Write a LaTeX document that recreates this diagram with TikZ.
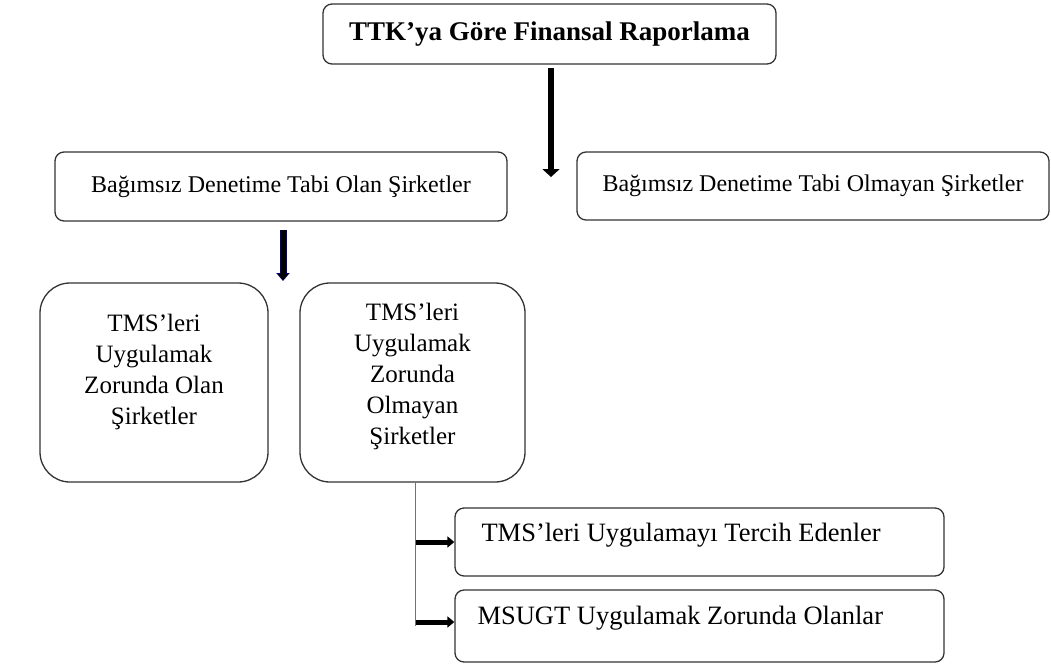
\documentclass[tikz,border=0pt]{standalone}
\usepackage{fontspec}
\setmainfont{Liberation Serif}
\usetikzlibrary{arrows.meta,calc}
\begin{document}
\begin{tikzpicture}[x=1pt, y=-1pt,
  every node/.style={inner sep=0pt, font=\fontsize{24}{27}\selectfont}
]
\tikzset{
  kutu/.style={draw=black!80, line width=1.3pt, rounded corners=9pt},
  uzun/.style={kutu, rounded corners=30pt},
  yazi/.style={align=center, font=\fontsize{25}{31}\selectfont},
  altyazi/.style={anchor=west, xshift=27pt, font=\fontsize{26.5}{30}\selectfont},
  kalinok/.style={line width=6pt, -{Triangle[width=17pt,length=8pt]}},
  ok/.style={line width=5pt, -{Triangle[width=11pt,length=7pt]}},
  cizgi/.style={draw=black!55, line width=1.5pt}
}
\useasboundingbox (0,0) rectangle (1051,664);

\node[kutu, minimum width=453pt, minimum height=60pt,
  font=\fontsize{27}{30}\selectfont\bfseries] (ttk) at (549.5,34) {TTK’ya Göre Finansal Raporlama};
\node[kutu, minimum width=452pt, minimum height=69pt] (olan) at (281,186.5) {Bağımsız Denetime Tabi Olan Şirketler};
\node[kutu, minimum width=472pt, minimum height=68pt] (olmayan) at (813,186) {Bağımsız Denetime Tabi Olmayan Şirketler};
\node[uzun, minimum width=228pt, minimum height=199pt,
  label={[yazi, yshift=11pt]center:TMS’leri\\Uygulamak\\Zorunda Olan\\Şirketler}] (tms1) at (154,382.5) {};
\node[uzun, minimum width=225pt, minimum height=199pt,
  label={[yazi, yshift=6pt]center:TMS’leri\\Uygulamak\\Zorunda\\Olmayan\\Şirketler}] (tms2) at (412.5,382.5) {};
\node[kutu, minimum width=489pt, minimum height=68pt,
  label={[altyazi, yshift=7pt]west:TMS’leri Uygulamayı Tercih Edenler}] (tercih) at (699.5,542) {};
\node[kutu, minimum width=489pt, minimum height=72pt,
  label={[altyazi, xshift=-4pt, yshift=8pt]west:MSUGT Uygulamak Zorunda Olanlar}] (msugt) at (699.5,626) {};

\coordinate (o1) at (551,68);
\coordinate (o2) at (551,177);
\coordinate (o3) at (283,230);
\coordinate (o4) at (283,281);

\draw[kalinok] (o1) -- (o2);
\draw[line width=7pt, blue!50!black, -{Triangle[width=13pt,length=8pt]}] (o3) -- (o4);
\draw[line width=5pt, black, -{Triangle[width=10pt,length=6pt]}] (o3) -- ($(o4)+(0,-1)$);

% alt dallar
\coordinate (b) at ($(tms2.south)+(3,0)$);
\draw[cizgi] (b) -- (b |- msugt.west);
\draw[ok] (b |- tercih.west) -- (tercih.west);
\draw[ok] ($(b |- msugt.west)+(0,-4)$) -- ($(msugt.west)+(0,-4)$);
\end{tikzpicture}
\end{document}
